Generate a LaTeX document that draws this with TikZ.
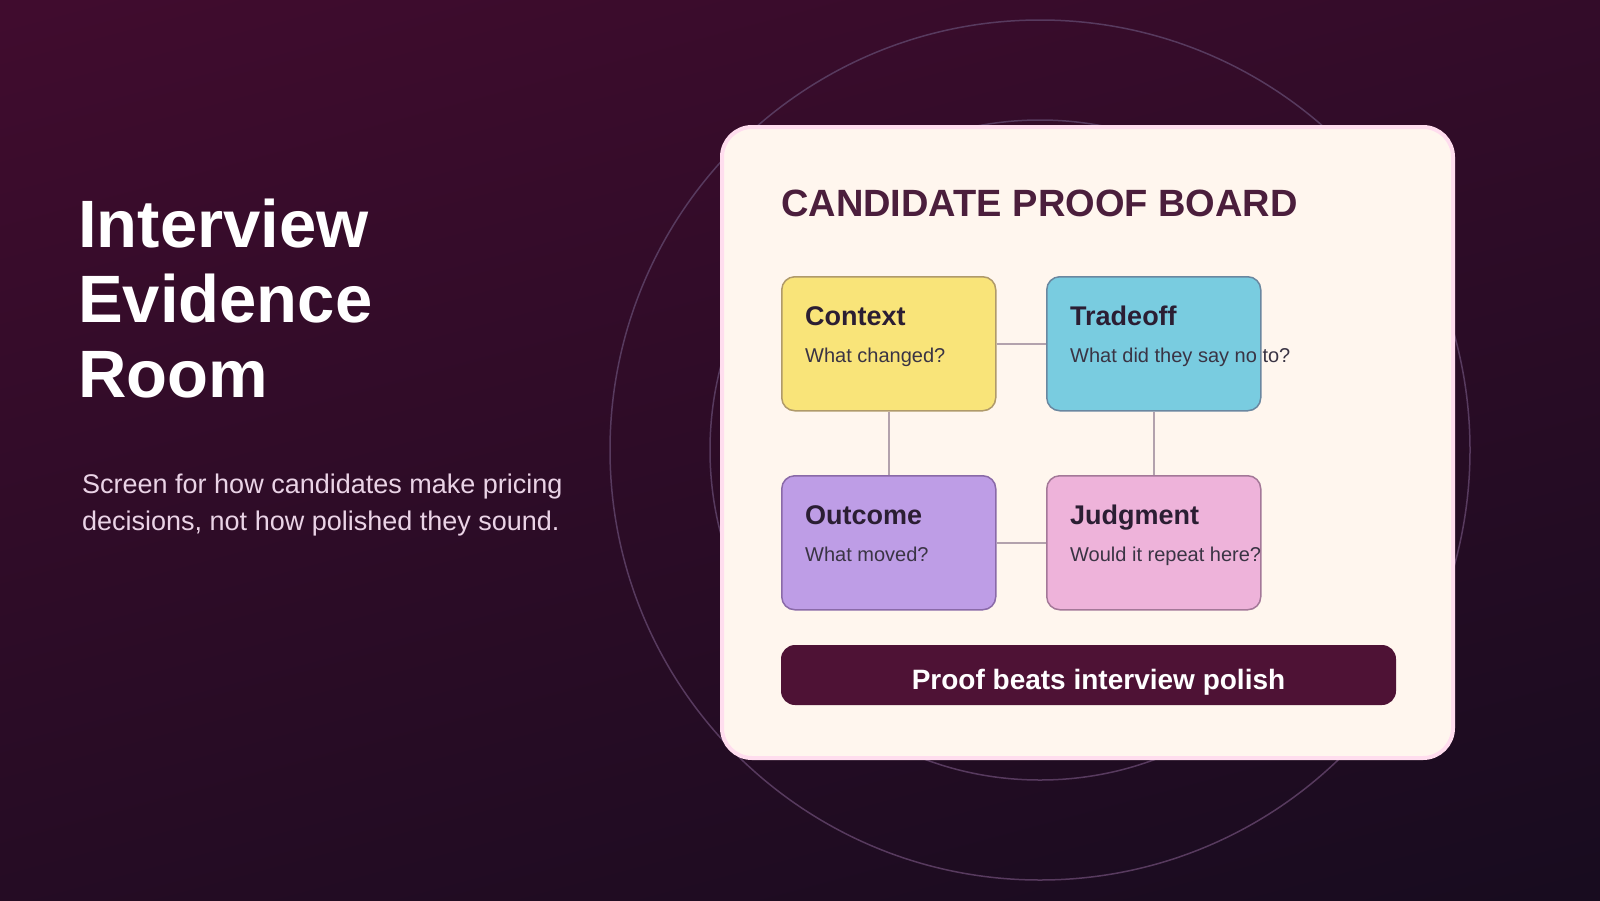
\documentclass[tikz,border=0pt]{standalone}
\usepackage{fontspec}
\setmainfont{Liberation Sans}
\usetikzlibrary{positioning}

\definecolor{bgtop}{HTML}{430C2F}
\definecolor{bgbot}{HTML}{150C1E}
\definecolor{ring}{HTML}{573A5E}
\definecolor{paper}{HTML}{FFF6EE}
\definecolor{paperedge}{HTML}{FFDDEE}
\definecolor{plum}{HTML}{4B1E3C}
\definecolor{inkdark}{HTML}{2B1E33}
\definecolor{inksoft}{HTML}{3A3444}
\definecolor{linkgray}{HTML}{B3A2AD}
\definecolor{subpink}{HTML}{EAD3E6}
\definecolor{barfill}{HTML}{4E1235}
\definecolor{yellowfill}{HTML}{F9E479}
\definecolor{yellowedge}{HTML}{B09A6A}
\definecolor{cyanfill}{HTML}{79CCE0}
\definecolor{cyanedge}{HTML}{6A87A0}
\definecolor{lilacfill}{HTML}{BE9DE6}
\definecolor{lilacedge}{HTML}{8A6AA8}
\definecolor{pinkfill}{HTML}{EEB3DA}
\definecolor{pinkedge}{HTML}{A47898}

\begin{document}
\begin{tikzpicture}[
    x=1pt, y=-1pt,
    quad/.style={rectangle, rounded corners=13pt, draw, line width=1.5pt, minimum width=214pt, minimum height=134pt, inner sep=0pt},
    qhead/.style={anchor=base west, inner sep=0pt, text=inkdark, font=\bfseries\fontsize{27}{32}\selectfont},
    qtext/.style={anchor=base west, inner sep=0pt, text=inksoft, font=\fontsize{20}{24}\selectfont},
    link/.style={draw=linkgray, line width=2.5pt}
]
    \useasboundingbox (0,0) rectangle (1600,900);
    \shade[top color=bgtop, bottom color=bgbot, shading angle=15] (-200,-200) rectangle (1800,1100);
    \draw[ring, line width=1.5pt] (1040,450) circle[radius=430pt];
    \draw[ring, line width=1.5pt] (1040,450) circle[radius=330pt];

    % left side
    \node[anchor=base west, align=left, inner sep=0pt, text=white, font=\bfseries\fontsize{67}{75}\selectfont] (heading) at (78,397) {Interview\\Evidence\\Room};
    \node[anchor=base west, align=left, inner sep=0pt, text=subpink, font=\fontsize{27}{37}\selectfont] (blurb) at (82,530) {Screen for how candidates make pricing\\decisions, not how polished they sound.};

    % board
    \node[rectangle, rounded corners=30pt, fill=paper, draw=paperedge, line width=4pt, minimum width=731pt, minimum height=631pt] (board) at (1087.5,442.5) {};
    \node[anchor=base west, inner sep=0pt, text=plum, font=\bfseries\fontsize{38}{44}\selectfont] (boardtitle) at (781,216) {CANDIDATE PROOF BOARD};

    \node[quad, fill=yellowfill, draw=yellowedge, anchor=north west] (context) at (781,276) {};
    \node[quad, fill=cyanfill, draw=cyanedge, right=49.5pt of context] (tradeoff) {};
    \node[quad, fill=lilacfill, draw=lilacedge, below=63.5pt of context] (outcome) {};
    \node[quad, fill=pinkfill, draw=pinkedge, right=49.5pt of outcome] (judgment) {};

    \node[qhead] (context-t) at ([shift={(24pt,-49pt)}]context.north west) {Context};
    \node[qtext] (context-q) at ([shift={(24pt,-86pt)}]context.north west) {What changed?};
    \node[qhead] (tradeoff-t) at ([shift={(24pt,-49pt)}]tradeoff.north west) {Tradeoff};
    \node[qtext] (tradeoff-q) at ([shift={(24pt,-86pt)}]tradeoff.north west) {What did they say no to?};
    \node[qhead] (outcome-t) at ([shift={(24pt,-49pt)}]outcome.north west) {Outcome};
    \node[qtext] (outcome-q) at ([shift={(24pt,-86pt)}]outcome.north west) {What moved?};
    \node[qhead] (judgment-t) at ([shift={(24pt,-49pt)}]judgment.north west) {Judgment};
    \node[qtext] (judgment-q) at ([shift={(24pt,-86pt)}]judgment.north west) {Would it repeat here?};

    \draw[link] (context) -- (tradeoff);
    \draw[link] (context) -- (outcome);
    \draw[link] (tradeoff) -- (judgment);
    \draw[link] (outcome) -- (judgment);

    \node[rectangle, rounded corners=14pt, fill=barfill, minimum width=615pt, minimum height=60pt] (bar) at (1088.5,675) {};
    \node[anchor=base, text=white, inner sep=0pt, font=\bfseries\fontsize{28}{32}\selectfont] (polish) at ([shift={(10pt,-14pt)}]bar.center) {Proof beats interview polish};
\end{tikzpicture}
\end{document}
